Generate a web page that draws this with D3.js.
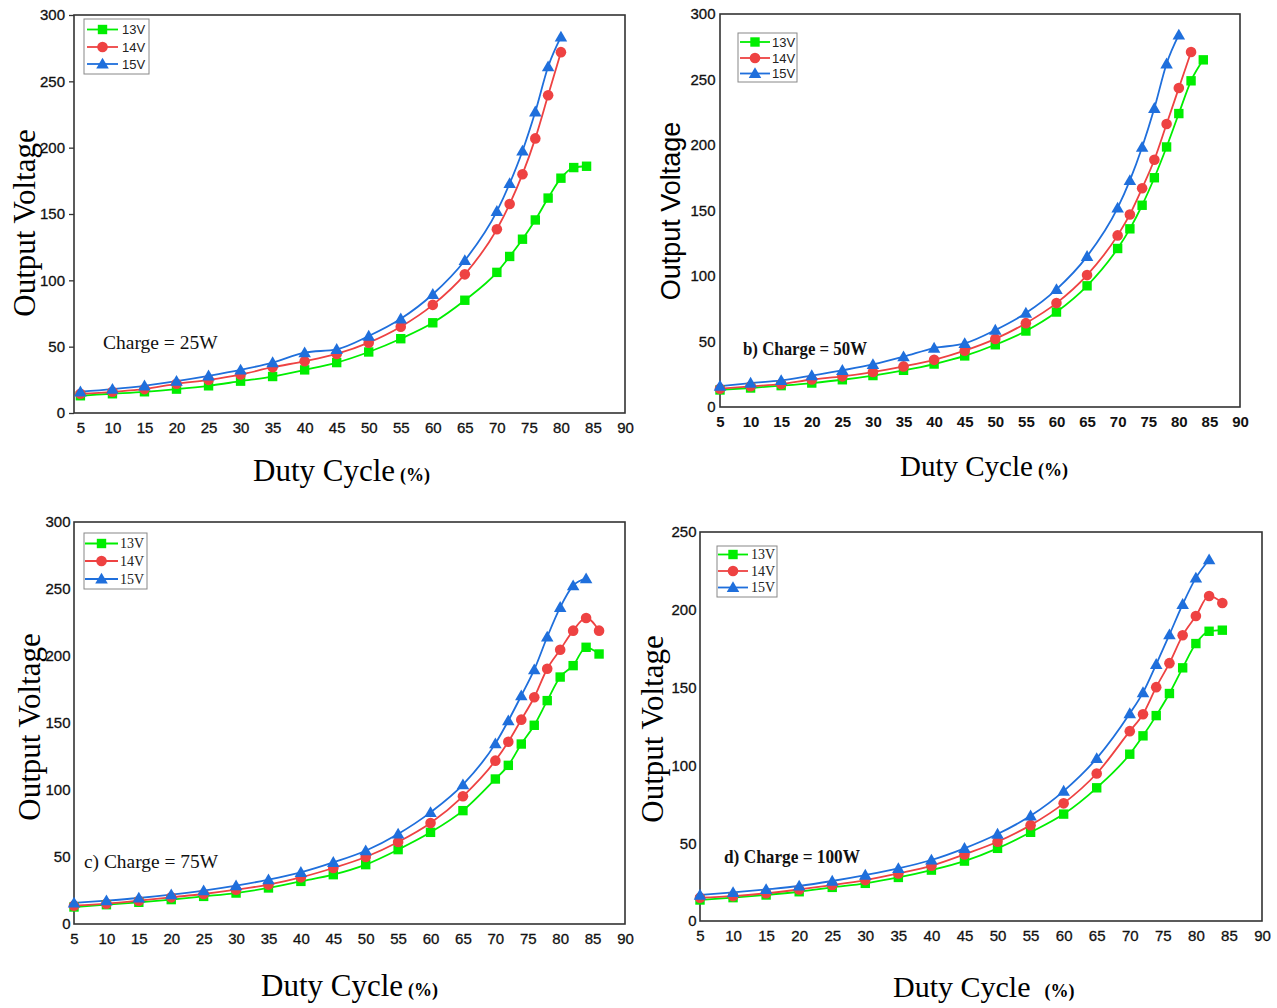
<!DOCTYPE html>
<html>
<head>
<meta charset="utf-8">
<script src="https://cdn.jsdelivr.net/npm/d3@7"></script>
<style>
  body { margin: 0; background: #fff; }
  svg { display: block; }
</style>
</head>
<body>
<svg id="chart" width="1277" height="1008"></svg>
<script>
// Duty cycle sample points (%)
const dutyTicks = [5, 10, 15, 20, 25, 30, 35, 40, 45, 50, 55, 60, 65, 70, 75, 80, 85, 90];
const dutyToward84 = [5, 10, 15, 20, 25, 30, 35, 40, 45, 50, 55, 60, 65, 70, 72, 74, 76, 78, 80, 82, 84];
const dutyToward86 = [5, 10, 15, 20, 25, 30, 35, 40, 45, 50, 55, 60, 65, 70, 72, 74, 76, 78, 80, 82, 84, 86];

const seriesNames = ["13V", "14V", "15V"];
const seriesColors = ["#00ee00", "#ee4242", "#1f6fdc"];

// a) Charge = 25W
const charge25_13V = [13, 14.5, 16, 18, 20.5, 24, 27.5, 32.5, 38, 46, 56, 68, 85, 106, 118, 131, 145.5, 162, 177, 185, 186];
const charge25_14V = [14.5, 16, 18, 22, 25, 29, 34.5, 39, 44.5, 53, 65, 81.5, 104.5, 138.5, 157.5, 180, 207, 239.5, 272];
const charge25_15V = [16, 18, 20.5, 24, 28, 32.5, 38, 45.5, 48, 58, 71, 89.5, 115, 152, 173, 197.5, 227, 261, 283.5];

// b) Charge = 50W
const charge50_13V = [13, 14.5, 16.3, 18.3, 20.8, 24, 28, 32.8, 39, 47.5, 58, 72.5, 92.5, 121, 136, 154, 175, 198.5, 224, 249, 265];
const charge50_14V = [14, 15.8, 17.5, 21, 23.4, 26.7, 31, 36, 43, 52, 64, 79.3, 100.7, 131, 147, 167, 188.7, 216, 243.5, 271];
const charge50_15V = [16, 18.3, 20.3, 24, 28, 32.5, 38.4, 45, 48.5, 58.7, 71.7, 89.8, 115, 152, 173, 198.3, 228, 262, 284];

// c) Charge = 75W
const charge75_13V = [12.7, 14.4, 16.2, 18.2, 20.6, 23.1, 26.9, 31.8, 36.8, 44.3, 55.5, 68.4, 84.6, 108.2, 118.4, 134.3, 148.3, 166.7, 184.3, 192.8, 206.5, 201.5];
const charge75_14V = [13.7, 15.2, 17.4, 19.9, 22.4, 25.6, 29.4, 34.8, 41.8, 50, 61.2, 75.4, 95.3, 121.9, 136, 152.5, 169.2, 190.5, 204.7, 218.9, 228.4, 218.9];
const charge75_15V = [15.7, 17.4, 19.4, 21.9, 24.9, 28.6, 33.1, 38.6, 46, 54.7, 67.2, 83.3, 104, 134.6, 151.7, 170.4, 189.8, 214.2, 236.3, 252.5, 257.7];

// d) Charge = 100W
const charge100_13V = [13.5, 15, 16.7, 18.8, 21.6, 24.2, 28, 32.7, 38.5, 46.7, 57, 68.7, 85.6, 107.2, 119, 132, 146.2, 162.7, 178.3, 186.2, 186.9];
const charge100_14V = [15, 16, 17.8, 20.3, 23.1, 26.3, 30.6, 35.5, 42.8, 50.9, 61.6, 75.6, 94.8, 122, 132.9, 150.3, 165.7, 183.6, 196, 208.9, 204.4];
const charge100_15V = [16.7, 18.4, 20.3, 22.5, 25.7, 29.5, 33.8, 39.2, 46.7, 55.9, 67.6, 83.5, 104.5, 133.3, 146.8, 165, 184, 203.5, 220.5, 232.2];

const voltTicks300 = [0, 50, 100, 150, 200, 250, 300];
const voltTicks250 = [0, 50, 100, 150, 200, 250];

const notes = ["Charge = 25W", "b) Charge = 50W", "c) Charge = 75W", "d) Charge = 100W"];

const SANS = "'Liberation Sans', Arial, sans-serif";
const SERIF = "'Liberation Serif', 'Times New Roman', serif";

// Panel geometry and styling
const panels = [
  {
    series: [charge25_13V, charge25_14V, charge25_15V], duty: dutyToward84,
    xDom: [4, 90], xRange: [74, 625], yDom: [0, 300], yRange: [413, 15], yTicks: voltTicks300,
    yTickSize: 5, yPad: 2, xTickBold: false,
    note: { x: 103, y: 349, bold: false, len: null },
    legend: { x: 84, y: 19, w: 65, h: 55, rows: [29.5, 47, 64], lx0: 87, lx1: 118, tx: 122, font: SANS, size: 13 },
    yTitle: { x: 24, y: 223, font: SERIF, size: 31 },
    xTitle: { x: 253, y: 481, size: 31, pctDx: 5 }
  },
  {
    series: [charge50_13V, charge50_14V, charge50_15V], duty: dutyToward84,
    xDom: [5, 90], xRange: [720, 1240], yDom: [0, 300], yRange: [407, 14], yTicks: voltTicks300,
    yTickSize: 0, yPad: 2.5, xTickBold: true,
    note: { x: 743, y: 355, bold: true, len: 124 },
    legend: { x: 738, y: 33, w: 59, h: 49, rows: [42, 58, 73.5], lx0: 740, lx1: 770, tx: 772, font: SANS, size: 13 },
    yTitle: { x: 671, y: 211, font: SANS, size: 27 },
    xTitle: { x: 900, y: 476, size: 29, pctDx: 5 }
  },
  {
    series: [charge75_13V, charge75_14V, charge75_15V], duty: dutyToward86,
    xDom: [5, 90], xRange: [74, 625], yDom: [0, 300], yRange: [924, 522], yTicks: voltTicks300,
    yTickSize: 0, yPad: 1.5, xTickBold: false,
    note: { x: 84, y: 868, bold: false, len: 134 },
    legend: { x: 84, y: 533, w: 63, h: 56, rows: [543.5, 561, 579], lx0: 85, lx1: 118, tx: 120, font: SERIF, size: 14 },
    yTitle: { x: 29, y: 727, font: SERIF, size: 31 },
    xTitle: { x: 261, y: 996, size: 31, pctDx: 5 }
  },
  {
    series: [charge100_13V, charge100_14V, charge100_15V], duty: dutyToward84,
    xDom: [5, 90], xRange: [700, 1262], yDom: [0, 250], yRange: [921, 532], yTicks: voltTicks250,
    yTickSize: 0, yPad: 1.5, xTickBold: false,
    note: { x: 724, y: 863, bold: true, len: 136 },
    legend: { x: 717, y: 546, w: 60, h: 51, rows: [554.5, 571, 587.5], lx0: 718, lx1: 748, tx: 751, font: SERIF, size: 14 },
    yTitle: { x: 652, y: 729, font: SERIF, size: 31 },
    xTitle: { x: 893, y: 997, size: 30, pctDx: 14 }
  }
];

const svg = d3.select("#chart");

function drawMarker(g, kind, x, y, color) {
  if (kind === 0) {
    g.append("rect").attr("x", x - 4.7).attr("y", y - 4.7).attr("width", 9.4).attr("height", 9.4).attr("fill", color);
  } else if (kind === 1) {
    g.append("circle").attr("cx", x).attr("cy", y).attr("r", 5.3).attr("fill", color);
  } else {
    g.append("path").attr("d", d3.symbol(d3.symbolTriangle, 68)()).attr("transform", `translate(${x},${y + 1})`).attr("fill", color);
  }
}

panels.forEach((p, pi) => {
  const g = svg.append("g");
  const x = d3.scaleLinear().domain(p.xDom).range(p.xRange);
  const y = d3.scaleLinear().domain(p.yDom).range(p.yRange);

  // x axis
  const xAxis = g.append("g").attr("transform", `translate(0,${p.yRange[0]})`)
    .call(d3.axisBottom(x).tickValues(dutyTicks).tickSize(0).tickPadding(9));
  xAxis.select(".domain").remove();
  xAxis.selectAll("text").attr("font-family", SANS).attr("font-size", 15).attr("fill", "#111")
    .attr("font-weight", p.xTickBold ? "bold" : "normal")
    .attr("stroke", p.xTickBold ? "none" : "#111").attr("stroke-width", 0.3);

  // y axis
  const yAxis = g.append("g").attr("transform", `translate(${p.xRange[0]},0)`)
    .call(d3.axisLeft(y).tickValues(p.yTicks).tickSize(p.yTickSize).tickPadding(p.yPad + 2));
  yAxis.select(".domain").remove();
  yAxis.selectAll("line").attr("stroke", "#333").attr("stroke-width", 1.3);
  yAxis.selectAll("text").attr("font-family", SANS).attr("font-size", 15).attr("fill", "#111")
    .attr("stroke", "#111").attr("stroke-width", 0.3);

  // frame
  g.append("rect")
    .attr("x", p.xRange[0]).attr("y", p.yRange[1])
    .attr("width", p.xRange[1] - p.xRange[0]).attr("height", p.yRange[0] - p.yRange[1])
    .attr("fill", "none").attr("stroke", "#333").attr("stroke-width", 1.6);

  // series lines
  const line = d3.line().curve(d3.curveMonotoneX);
  p.series.forEach((vals, si) => {
    const pts = vals.map((v, i) => [x(p.duty[i]), y(v)]);
    g.append("path").attr("d", line(pts)).attr("fill", "none")
      .attr("stroke", seriesColors[si]).attr("stroke-width", 1.8);
  });
  p.series.forEach((vals, si) => {
    vals.forEach((v, i) => drawMarker(g, si, x(p.duty[i]), y(v), seriesColors[si]));
  });

  // legend
  const L = p.legend;
  g.append("rect").attr("x", L.x).attr("y", L.y).attr("width", L.w).attr("height", L.h)
    .attr("fill", "#fff").attr("stroke", "#888").attr("stroke-width", 1);
  seriesNames.forEach((name, si) => {
    const ry = L.rows[si];
    g.append("line").attr("x1", L.lx0).attr("x2", L.lx1).attr("y1", ry).attr("y2", ry)
      .attr("stroke", seriesColors[si]).attr("stroke-width", 1.8);
    drawMarker(g, si, (L.lx0 + L.lx1) / 2, ry, seriesColors[si]);
    g.append("text").attr("x", L.tx).attr("y", ry).attr("dy", "0.35em")
      .attr("font-family", L.font).attr("font-size", L.size).attr("fill", "#222").text(name);
  });

  // annotation
  const note = g.append("text").attr("x", p.note.x).attr("y", p.note.y)
    .attr("font-family", SERIF).attr("font-size", 19.5).attr("fill", "#111")
    .attr("font-weight", p.note.bold ? "bold" : "normal")
    .text(notes[pi]);
  if (p.note.len) note.attr("textLength", p.note.len).attr("lengthAdjust", "spacingAndGlyphs");

  // y title
  g.append("text")
    .attr("transform", `translate(${p.yTitle.x},${p.yTitle.y}) rotate(-90)`)
    .attr("text-anchor", "middle").attr("dy", "0.35em")
    .attr("font-family", p.yTitle.font).attr("font-size", p.yTitle.size).attr("fill", "#000")
    .text("Output Voltage");

  // x title
  const xt = g.append("text").attr("x", p.xTitle.x).attr("y", p.xTitle.y)
    .attr("font-family", SERIF).attr("fill", "#000");
  xt.append("tspan").attr("font-size", p.xTitle.size).text("Duty Cycle");
  xt.append("tspan").attr("font-size", 18).attr("font-weight", "bold").attr("dx", p.xTitle.pctDx).text("(%)");
});
</script>
</body>
</html>
